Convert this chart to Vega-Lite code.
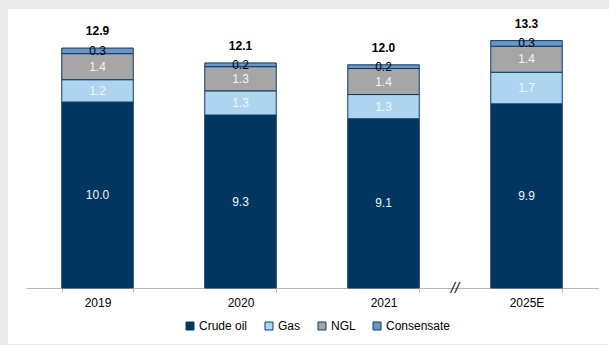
{
  "$schema": "https://vega.github.io/schema/vega-lite/v6.json",
  "width": 601,
  "height": 335,
  "autosize": {"type": "none"},
  "padding": {"left": 8, "top": 9, "right": 0, "bottom": 1},
  "background": "#e9eaec",
  "config": {
    "view": {"fill": "#ffffff", "stroke": null},
    "font": "Liberation Sans",
    "text": {"font": "Liberation Sans"}
  },
  "datasets": {
    "production": [
      {"year": "2019", "source": "Crude oil", "value": 10.0, "rank": 1},
      {"year": "2019", "source": "Gas", "value": 1.2, "rank": 2},
      {"year": "2019", "source": "NGL", "value": 1.4, "rank": 3},
      {"year": "2019", "source": "Consensate", "value": 0.3, "rank": 4},
      {"year": "2020", "source": "Crude oil", "value": 9.3, "rank": 1},
      {"year": "2020", "source": "Gas", "value": 1.3, "rank": 2},
      {"year": "2020", "source": "NGL", "value": 1.3, "rank": 3},
      {"year": "2020", "source": "Consensate", "value": 0.2, "rank": 4},
      {"year": "2021", "source": "Crude oil", "value": 9.1, "rank": 1},
      {"year": "2021", "source": "Gas", "value": 1.3, "rank": 2},
      {"year": "2021", "source": "NGL", "value": 1.4, "rank": 3},
      {"year": "2021", "source": "Consensate", "value": 0.2, "rank": 4},
      {"year": "2025E", "source": "Crude oil", "value": 9.9, "rank": 1},
      {"year": "2025E", "source": "Gas", "value": 1.7, "rank": 2},
      {"year": "2025E", "source": "NGL", "value": 1.4, "rank": 3},
      {"year": "2025E", "source": "Consensate", "value": 0.3, "rank": 4}
    ],
    "axisBreak": [
      {"year": "2021", "mark": "//", "value": 0}
    ]
  },
  "layer": [
    {
      "data": {"name": "production"},
      "transform": [
        {"stack": "value", "groupby": ["year"], "sort": [{"field": "rank", "order": "ascending"}], "as": ["y0", "y1"]}
      ],
      "mark": {"type": "bar", "stroke": "#0d3a66", "strokeWidth": 1},
      "encoding": {
        "x": {
          "field": "year", "type": "nominal", "sort": null,
          "scale": {"range": [18, 590], "paddingInner": 0.5, "paddingOuter": 0.25},
          "axis": {
            "title": null, "orient": "bottom", "offset": -56,
            "labelAngle": 0, "labelFontSize": 12, "labelColor": "#000000",
            "labelPadding": 5, "domainColor": "#b5b5b5", "tickColor": "#b5b5b5",
            "tickSize": 4, "tickBand": "extent", "grid": false
          }
        },
        "y": {
          "field": "y1", "type": "quantitative",
          "scale": {"domain": [0, 15], "range": [279, 0], "nice": false, "zero": false},
          "axis": null
        },
        "y2": {"field": "y0"},
        "color": {
          "field": "source", "type": "nominal",
          "scale": {
            "domain": ["Crude oil", "Gas", "NGL", "Consensate"],
            "range": ["#003660", "#aed5f0", "#a6a6a6", "#6c96c6"]
          },
          "legend": {
            "title": null, "orient": "none", "direction": "horizontal",
            "legendX": 176, "legendY": 311, "padding": 0,
            "symbolType": "square", "symbolSize": 64,
            "symbolStrokeColor": "#0d3a66", "symbolStrokeWidth": 1,
            "labelFontSize": 12, "labelColor": "#000000", "labelOffset": 3,
            "columnPadding": 15
          }
        }
      }
    },
    {
      "data": {"name": "production"},
      "transform": [
        {"stack": "value", "groupby": ["year"], "sort": [{"field": "rank", "order": "ascending"}], "as": ["y0", "y1"]},
        {"calculate": "(datum.y0 + datum.y1) / 2", "as": "mid"}
      ],
      "mark": {"type": "text", "fontSize": 12, "baseline": "middle", "align": "center"},
      "encoding": {
        "x": {"field": "year", "type": "nominal", "sort": null},
        "y": {"field": "mid", "type": "quantitative"},
        "text": {"field": "value", "type": "quantitative", "format": ".1f"},
        "color": {
          "condition": {"test": "datum.source === 'Consensate'", "value": "#000000"},
          "value": "#f4f4f4"
        }
      }
    },
    {
      "data": {"name": "production"},
      "transform": [
        {"aggregate": [{"op": "sum", "field": "value", "as": "total"}], "groupby": ["year"]}
      ],
      "mark": {"type": "text", "fontSize": 12, "fontWeight": "bold", "baseline": "middle", "align": "center", "dy": -17, "color": "#000000"},
      "encoding": {
        "x": {"field": "year", "type": "nominal", "sort": null},
        "y": {"field": "total", "type": "quantitative"},
        "text": {"field": "total", "type": "quantitative", "format": ".1f"}
      }
    },
    {
      "data": {"name": "axisBreak"},
      "mark": {"type": "text", "fontSize": 15, "fontStyle": "italic", "baseline": "middle", "align": "center", "color": "#111111"},
      "encoding": {
        "x": {"field": "year", "type": "nominal", "sort": null, "bandPosition": 1.5},
        "y": {"field": "value", "type": "quantitative"},
        "text": {"field": "mark"}
      }
    }
  ]
}
